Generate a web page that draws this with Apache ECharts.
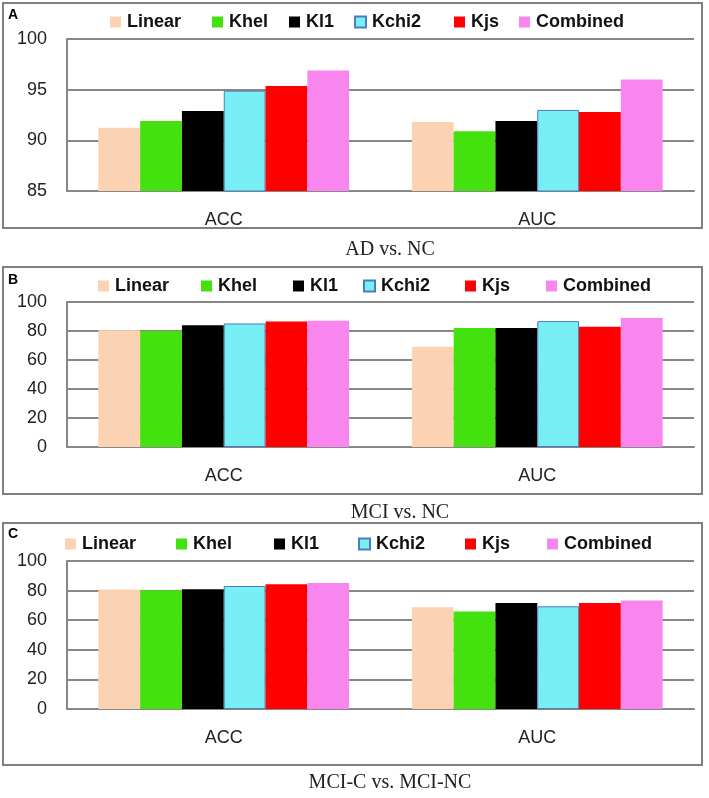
<!DOCTYPE html>
<html>
<head>
<meta charset="utf-8">
<script src="https://cdn.jsdelivr.net/npm/echarts@6/dist/echarts.min.js"></script>
<style>
html,body{margin:0;padding:0;background:#fff;}
#chart{width:709px;height:798px;}
</style>
</head>
<body>
<div id="chart"></div>
<script>
// ---- data ----
const categories = ['ACC', 'AUC'];
const methods = ['Linear', 'Khel', 'Kl1', 'Kchi2', 'Kjs', 'Combined'];
const panelTitles = ['AD vs. NC', 'MCI vs. NC', 'MCI-C vs. MCI-NC'];
const panelLetters = ['A', 'B', 'C'];
// values per method, in order of `methods`
const adNcACC = [91.25, 91.9, 92.9, 94.9, 95.35, 96.9];
const adNcAUC = [91.8, 90.9, 91.9, 93.0, 92.8, 96.0];
const mciNcACC = [80.5, 80.0, 84.0, 85.2, 86.5, 87.0];
const mciNcAUC = [69.2, 82.0, 82.0, 86.8, 83.0, 89.0];
const mcicACC = [80.7, 80.2, 80.9, 83.1, 84.3, 85.2];
const mcicAUC = [68.8, 65.8, 71.7, 69.4, 71.7, 73.3];
// y-axis tick settings
const yMins = [85, 0, 0];
const yMaxs = [100, 100, 100];
const yIntervals = [5, 20, 20];

// ---- styles / layout ----
const colors = ['#FBD3B2', '#43E10E', '#000000', '#78EFF4', '#FF0000', '#F985EE'];
const panelData = [[adNcACC, adNcAUC], [mciNcACC, mciNcAUC], [mcicACC, mcicAUC]];
const gridTops = [39, 302, 561];
const gridHeights = [152, 145, 148];
const frames = [[3, 3, 699, 225], [3, 267, 699, 227], [3, 523, 699, 242]];
const titleY = [250, 513, 783];
const titleX = [390, 400, 390];
const letterY = [15, 280, 534];
const legendTops = [13, 277, 535];
const legendLefts = [
  [110, 212, 289, 354, 454, 519],
  [98, 201, 293, 363, 465, 546],
  [65, 176, 274, 358, 465, 547]
];
const gridColor = '#878787';

const chart = echarts.init(document.getElementById('chart'));

const grid = [], xAxis = [], yAxis = [], series = [], legend = [], graphic = [];

for (let p = 0; p < 3; p++) {
  grid.push({ left: 67, right: 15, top: gridTops[p], height: gridHeights[p] });
  xAxis.push({
    type: 'category', gridIndex: p, data: categories,
    axisLine: { show: true, lineStyle: { color: gridColor, width: 2 } },
    axisTick: { show: false },
    axisLabel: { color: '#222', fontSize: 18, fontFamily: 'Liberation Sans', margin: 20 }
  });
  yAxis.push({
    type: 'value', gridIndex: p, min: yMins[p], max: yMaxs[p], interval: yIntervals[p],
    axisLine: { show: true, lineStyle: { color: gridColor, width: 2 } },
    axisTick: { show: false },
    axisLabel: { color: '#222', fontSize: 18, fontFamily: 'Liberation Sans', margin: 20 },
    splitLine: { show: true, lineStyle: { color: gridColor, width: 2 } }
  });
  methods.forEach((m, i) => {
    const s = {
      name: m, type: 'bar', xAxisIndex: p, yAxisIndex: p,
      data: panelData[p].map(arr => arr[i]),
      barGap: '0%', barCategoryGap: '20%',
      itemStyle: { color: colors[i] },
      emphasis: { disabled: true },
      animation: false
    };
    if (m === 'Kchi2') {
      s.itemStyle.borderColor = '#4A7EBB';
      s.itemStyle.borderWidth = 1;
    }
    series.push(s);
    legend.push({
      data: [m], left: legendLefts[p][i], top: legendTops[p],
      padding: 0, itemWidth: 11, itemHeight: 11, itemGap: 0,
      icon: 'rect', selectedMode: false,
      textStyle: { fontSize: 18, fontWeight: 'bold', color: '#111', fontFamily: 'Liberation Sans', padding: [0, 0, 0, 1] }
    });
  });
  graphic.push({
    type: 'rect', z: -10, silent: true,
    shape: { x: frames[p][0], y: frames[p][1], width: frames[p][2], height: frames[p][3] },
    style: { fill: null, stroke: '#808080', lineWidth: 2 }
  });
  graphic.push({
    type: 'text', silent: true, x: 8, y: letterY[p],
    style: { text: panelLetters[p], fontSize: 14, fontWeight: 'bold', fill: '#000',
      fontFamily: 'Liberation Sans', textVerticalAlign: 'middle', verticalAlign: 'middle' }
  });
  graphic.push({
    type: 'text', silent: true, x: titleX[p], y: titleY[p],
    style: { text: panelTitles[p], fontSize: 20, fill: '#222', fontFamily: 'Liberation Serif',
      textAlign: 'center', align: 'center', textVerticalAlign: 'middle', verticalAlign: 'middle' }
  });
}

chart.setOption({
  animation: false,
  grid, xAxis, yAxis, series, legend, graphic
});
</script>
</body>
</html>
